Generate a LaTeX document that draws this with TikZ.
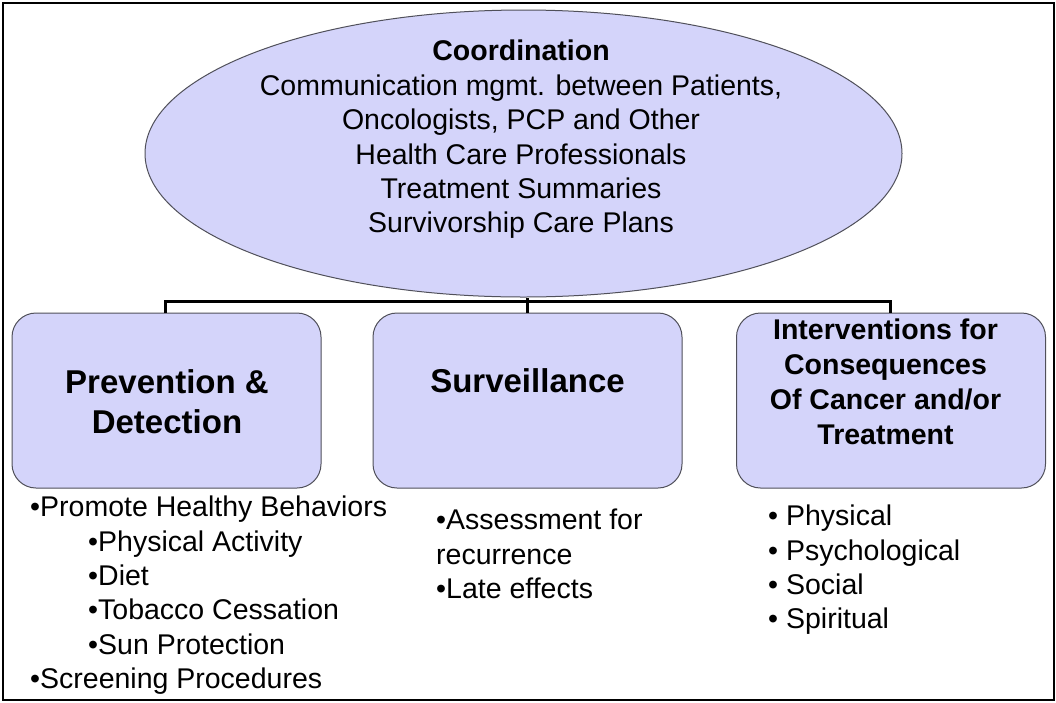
\documentclass[tikz,border=0pt]{standalone}
\usepackage{fontspec}
\setmainfont{Liberation Sans}
\usetikzlibrary{shapes.geometric}
\definecolor{lav}{RGB}{212,212,250}
\definecolor{edge}{RGB}{80,80,90}
\tikzset{
  shapefill/.style={fill=lav, draw=edge, line width=1pt},
  boxnode/.style={shapefill, rectangle, rounded corners=24pt, minimum width=309pt, minimum height=175pt, inner sep=0pt},
  conn/.style={line width=3pt, black},
  regtext/.style={font=\fontsize{28.5}{34.4}\selectfont, inner sep=0pt},
  titletext/.style={font=\fontsize{33}{39.6}\selectfont\bfseries, inner sep=0pt, align=center},
  listtext/.style={font=\fontsize{28.5}{34.3}\selectfont, inner sep=0pt, align=left, anchor=north west}
}
\begin{document}
\begin{tikzpicture}[x=1pt,y=-1pt]
\useasboundingbox (0,0) rectangle (1056,702);
\fill[white] (0,0) rectangle (1056,702);
\draw[line width=2pt] (2.5,2.5) rectangle (1053.5,699.5);

% coordination ellipse
\node[shapefill, ellipse, minimum width=757pt, minimum height=287pt, inner sep=0pt] (coord) at (523.5,153.5) {};
\node[regtext, align=center] (coordtxt) at (521,139.5) {\textbf{Coordination}\\Communication mgmt. between Patients,\\Oncologists, PCP and Other\\Health Care Professionals\\Treatment Summaries\\Survivorship Care Plans};

% boxes
\node[boxnode] (pd) at (166.5,400.5) {};
\node[boxnode] (sv) at (527.5,400.5) {};
\node[boxnode] (iv) at (891,400.5) {};

\node[titletext] (pdtxt) at (167,401.5) {Prevention \&\\Detection};
\node[titletext] (svtxt) at (527.5,381) {Surveillance};
\node[titletext, font=\fontsize{28.5}{35}\selectfont\bfseries] (ivtxt) at (885.5,382) {Interventions for\\Consequences\\Of Cancer and/or\\Treatment};

% connectors
\coordinate (busL) at (165,301);
\coordinate (busR) at (890,301);
\draw[conn] (pd.north -| busL) -- (busL) -- (busR) -- (iv.north -| busR);
\draw[conn] (sv.north) -- (sv.north |- coord.south);

% lists
\node[listtext] (pdlist) at (30,496) {•Promote Healthy Behaviors\\
\hspace*{58pt}•Physical Activity\\
\hspace*{58pt}•Diet\\
\hspace*{58pt}•Tobacco Cessation\\
\hspace*{58pt}•Sun Protection\\
•Screening Procedures};
\node[listtext, font=\fontsize{28.5}{34.5}\selectfont] (svlist) at (436,509) {•Assessment for\\recurrence\\•Late effects};
\node[listtext] (ivlist) at (768,505) {• Physical\\• Psychological\\• Social\\• Spiritual};
\end{tikzpicture}
\end{document}
